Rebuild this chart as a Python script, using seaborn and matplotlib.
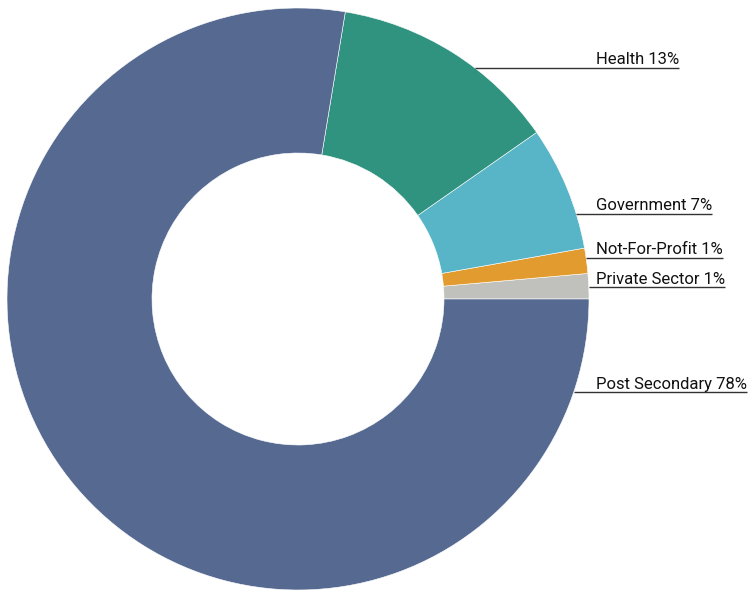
import matplotlib
matplotlib.use("Agg")
import matplotlib.pyplot as plt
import seaborn as sns
import numpy as np

# Share of total by sector, listed counter-clockwise from 3 o'clock
sectors = ["Private Sector", "Not-For-Profit", "Government", "Health", "Post Secondary"]
shares = [1.4, 1.4, 6.9, 12.7, 77.6]
colors = ["#c0c1bc", "#e29b2f", "#58b5c7", "#30937f", "#566a91"]

# Label baselines (pixels from top) for each sector's callout
label_rows = [287, 258, 214, 68, 392]

W, H = 749, 590
sns.set_theme(style="white")
plt.rcParams["font.family"] = ["Roboto", "DejaVu Sans"]

fig = plt.figure(figsize=(W / 100, H / 100), dpi=100)
ax = fig.add_axes([0, 0, 1, 1])

cx, cy = 298, H - 299
r_out, r_in = 291, 146

ax.pie(
    shares,
    colors=colors,
    startangle=0,
    counterclock=True,
    radius=r_out,
    center=(cx, cy),
    wedgeprops=dict(width=r_out - r_in, edgecolor="white", linewidth=0.4),
)
ax.set_xlim(0, W)
ax.set_ylim(0, H)
ax.set_aspect("equal")
ax.axis("off")

fig.canvas.draw()
renderer = fig.canvas.get_renderer()

text_x = 596
for name, val, row in zip(sectors, shares, label_rows):
    y_line = H - row
    t = ax.text(text_x, y_line + 3.5, f"{name} {round(val)}%", fontsize=12.0,
                color="#111111", ha="left", va="baseline")
    bb = t.get_window_extent(renderer=renderer)
    x_end = ax.transData.inverted().transform((bb.x1, bb.y0))[0]
    dy = y_line - cy
    x_start = cx + np.sqrt(max(r_out ** 2 - dy ** 2, 0))
    ax.plot([x_start, x_end], [y_line, y_line], color="#333333", lw=1.0,
            solid_capstyle="butt")

fig.savefig("out.png", dpi=100)
